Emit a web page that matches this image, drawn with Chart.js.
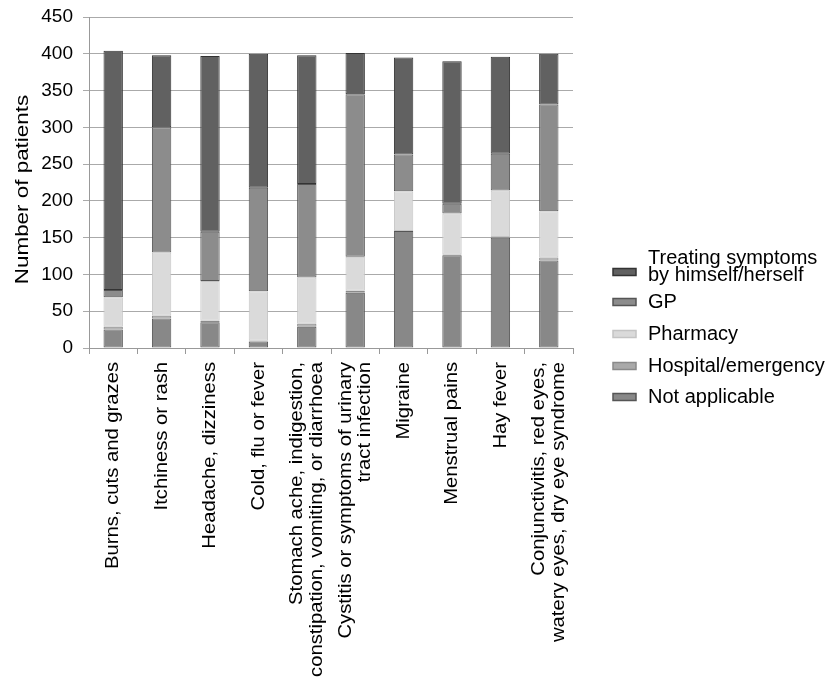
<!DOCTYPE html>
<html>
<head>
<meta charset="utf-8">
<script src="https://cdn.jsdelivr.net/npm/chart.js@4.4.1/dist/chart.umd.min.js"></script>
<style>
    html, body { margin: 0; padding: 0; background: #fff; }
    #wrap { width: 830px; height: 677px; }
</style>
</head>
<body>
<div id="wrap"><canvas id="patientChart"></canvas></div>
<script>
/* ==========================================
   DATA
========================================== */

const categories = [
    ["Burns, cuts and grazes"],
    ["Itchiness or rash"],
    ["Headache, dizziness"],
    ["Cold, flu or fever"],
    ["Stomach ache, indigestion,", "constipation, vomiting, or diarrhoea"],
    ["Cystitis or symptoms of urinary", "tract infection"],
    ["Migraine"],
    ["Menstrual pains"],
    ["Hay fever"],
    ["Conjunctivitis, red eyes,", "watery eyes, dry eye syndrome"]
];

const notApplicable = [25, 40, 35, 9, 29, 75, 159, 126, 150, 119];
const hospital      = [4, 4, 2, 1, 4, 3, 0, 1, 1, 4];
const pharmacy      = [40, 86, 54, 67, 63, 46, 54, 56, 63, 63];
const gp            = [10, 170, 67, 141, 127, 221, 50, 13, 50, 145];
const treating      = [325, 98, 239, 182, 175, 56, 132, 194, 132, 69];

const yTicks = [0, 50, 100, 150, 200, 250, 300, 350, 400, 450];
const yTitle = "Number of patients";

/* ==========================================
   CHART
========================================== */

const FONT = "'Liberation Sans', Arial, Helvetica, sans-serif";
Chart.defaults.font.family = FONT;
Chart.defaults.color = "#000";
Chart.defaults.animation = false;

function series(label, data, fill, stroke) {
    return {
        label: label,
        data: data,
        yAxisID: "y",
        backgroundColor: fill,
        borderColor: stroke,
        borderWidth: 1,
        borderSkipped: false,
        barPercentage: 0.4,
        categoryPercentage: 1
    };
}

// rotated texts in the reference are a bit stretched along their length
function drawTallText(ctx, lines, x, y, stretch, lineGap, align) {
    ctx.save();
    ctx.translate(x, y);
    ctx.rotate(-Math.PI / 2);
    ctx.scale(stretch, 1);
    ctx.font = "19px " + FONT;
    ctx.fillStyle = "#000";
    ctx.textAlign = align;
    ctx.textBaseline = "middle";
    lines.forEach((line, k) => {
        ctx.fillText(line, 0, (k - (lines.length - 1) / 2) * lineGap);
    });
    ctx.restore();
}

/* ==========================================
   LABELS + LEGEND
========================================== */

const legendBoxY = [272, 302, 334, 366, 397];

const customText = {
    id: "customText",
    afterDraw(chart) {
        const ctx = chart.ctx;
        const xs = chart.scales.x;
        const ys = chart.scales.y;

        categories.forEach((lines, i) => {
            drawTallText(ctx, lines, xs.getPixelForTick(i), xs.top + 14, 1.065, 19.5, "right");
        });

        drawTallText(ctx, [yTitle], 23, (ys.top + ys.bottom) / 2 + 7, 1.18, 20, "center");

        // legend, top item is the top of the stack
        const sets = chart.data.datasets.slice().reverse();
        ctx.save();
        ctx.font = "20px " + FONT;
        ctx.textBaseline = "middle";
        ctx.textAlign = "left";
        sets.forEach((ds, i) => {
            const y = legendBoxY[i];
            ctx.fillStyle = ds.backgroundColor;
            ctx.strokeStyle = ds.borderColor;
            ctx.lineWidth = 1.5;
            ctx.fillRect(613, y - 3.5, 23, 7);
            ctx.strokeRect(613, y - 3.5, 23, 7);

            const lines = Array.isArray(ds.label) ? ds.label : [ds.label];
            const offsets = lines.length > 1 ? [-14, 3] : [0];
            ctx.fillStyle = "#000";
            lines.forEach((line, k) => ctx.fillText(line, 648, y + offsets[k]));
        });
        ctx.restore();
    }
};

new Chart(document.getElementById("patientChart"), {
    type: "bar",
    data: {
        labels: categories,
        datasets: [
            series("Not applicable", notApplicable, "#888888", "#555555"),
            series("Hospital/emergency", hospital, "#a9a9a9", "#8a8a8a"),
            series("Pharmacy", pharmacy, "#dadada", "#c4c4c4"),
            series("GP", gp, "#8c8c8c", "#555555"),
            series(["Treating symptoms", "by himself/herself"], treating, "#616161", "#333333")
        ]
    },
    plugins: [customText],
    options: {
        responsive: true,
        maintainAspectRatio: false,
        layout: { padding: { top: 17, left: 0, right: 257, bottom: 0 } },
        plugins: {
            tooltip: { enabled: false },
            legend: { display: false }
        },
        scales: {
            x: {
                stacked: true,
                grid: {
                    offset: true,
                    drawOnChartArea: false,
                    tickLength: 6,
                    color: "#999"
                },
                border: { color: "#999" },
                ticks: { display: false },
                afterFit: scale => { scale.height = 329; }
            },
            y: {
                stacked: true,
                min: 0,
                max: 450,
                afterBuildTicks: scale => {
                    scale.ticks = yTicks.map(v => ({ value: v }));
                },
                grid: { color: "#aaa", tickLength: 6 },
                border: { color: "#999" },
                ticks: { padding: 10, font: { size: 19 } },
                afterFit: scale => {
                    scale.width = 89;
                    scale.paddingTop = 0;
                    scale.paddingBottom = 0;
                }
            }
        }
    }
});
</script>
</body>
</html>
